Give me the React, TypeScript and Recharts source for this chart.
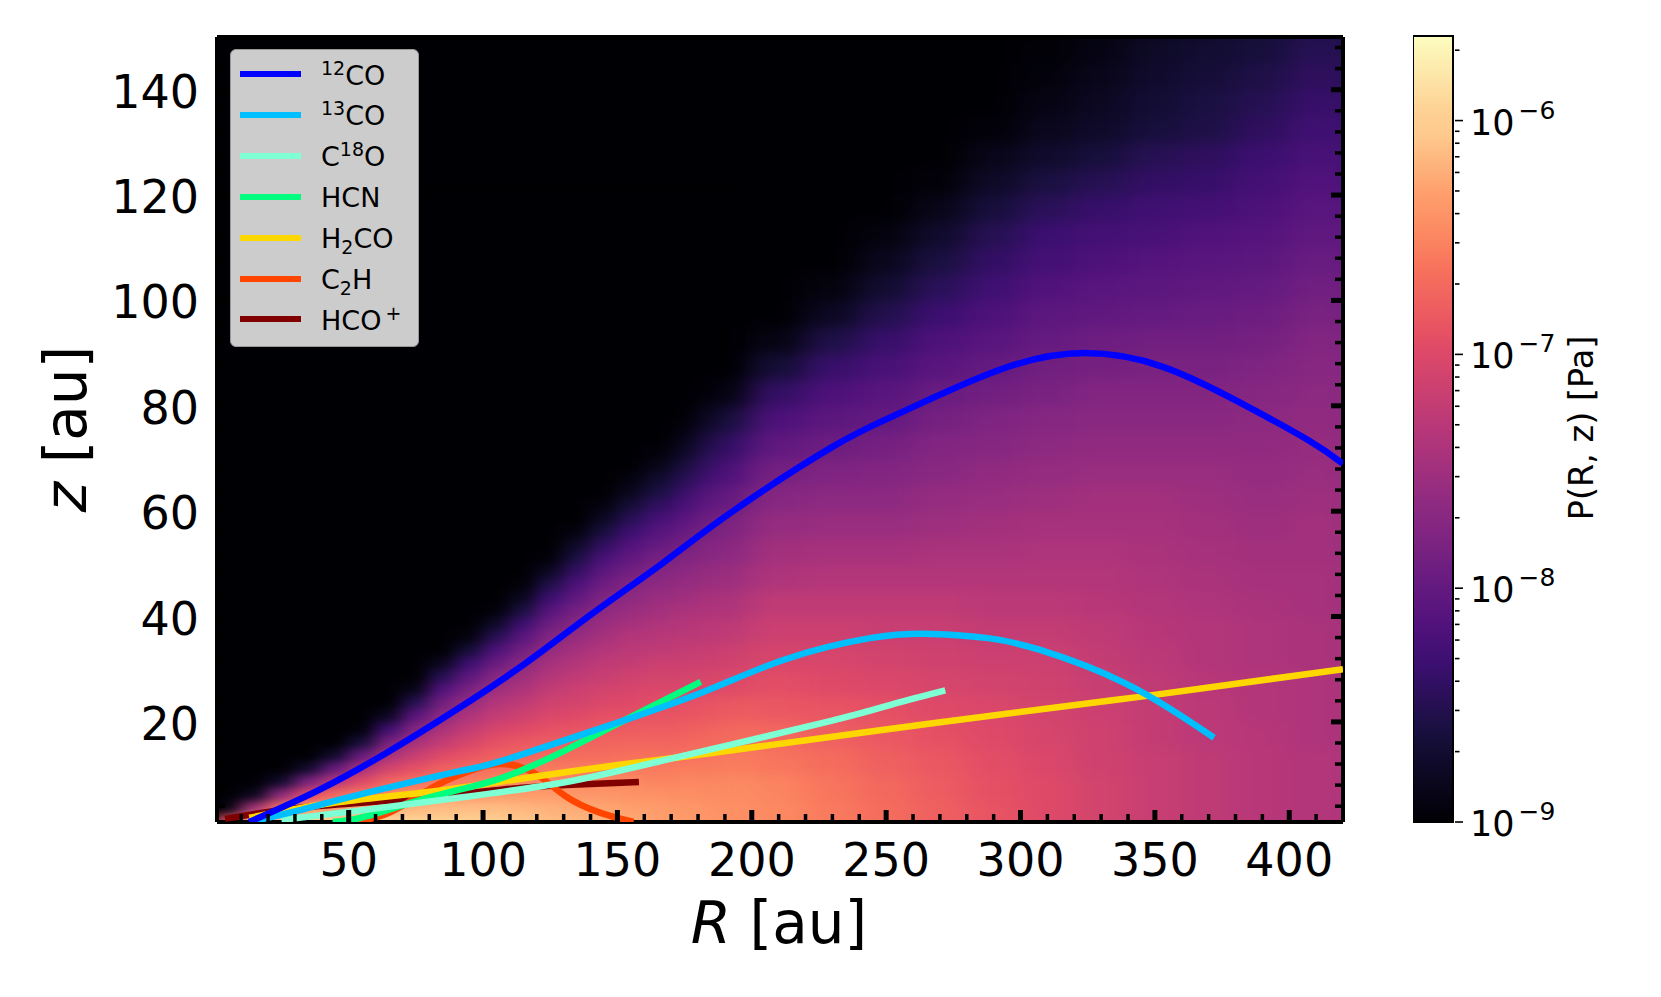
import React from 'react'
import { ComposedChart, Line, Scatter, XAxis, YAxis, ReferenceArea } from 'recharts'

const FONT = '"DejaVu Sans", sans-serif'

// line positions: radius R [au] and height z [au]
const co12R = [13, 39, 64, 90, 116, 141, 167, 193, 230, 255, 292, 324, 353, 381, 407, 420]
const co12Z = [1, 7.1, 14.1, 22.3, 31.2, 40.7, 50.2, 60, 72.2, 78.6, 86.8, 90, 87.4, 80.8, 73.5, 69]
const co13R = [13, 30, 51, 90, 107, 142, 181, 212, 244, 267, 288, 307, 339, 372]
const co13Z = [1, 3, 5.8, 10.5, 12.6, 18.5, 25.5, 31.8, 35.9, 36.7, 35.9, 33.7, 27.3, 17]
const c18oR = [25, 56, 94, 131, 168, 228, 252, 272]
const c18oZ = [1.4, 3.3, 5.8, 8.6, 12.8, 20, 23.3, 26]
const hcnR = [44, 56, 81, 106, 131, 156, 181]
const hcnZ = [1, 2, 5.8, 9.2, 14.7, 21.2, 27.6]
const h2coR = [13, 44, 81, 119, 156, 188, 268, 345, 420]
const h2coZ = [1.8, 4.6, 6.8, 9.6, 12.2, 14.3, 19.8, 24.8, 30]
const c2hR = [53, 66, 81, 94, 106, 119, 131, 144, 156]
const c2hZ = [1, 3, 7.5, 10.5, 12, 10.3, 5.8, 2.7, 1]
const hcoR = [4, 32, 69, 106, 131, 158]
const hcoZ = [1.6, 3.7, 5.2, 7.1, 8, 8.6]

const toPoints = (rs: number[], zs: number[]) => rs.map((R, i) => ({ R, z: zs[i] }))

const xTicks = [10, 20, 30, 40, 50, 60, 70, 80, 90, 100, 110, 120, 130, 140, 150, 160, 170, 180, 190, 200, 210, 220, 230, 240, 250, 260, 270, 280, 290, 300, 310, 320, 330, 340, 350, 360, 370, 380, 390, 400, 410]
const yTicks = [4, 8, 12, 16, 20, 24, 28, 32, 36, 40, 44, 48, 52, 56, 60, 64, 68, 72, 76, 80, 84, 88, 92, 96, 100, 104, 108, 112, 116, 120, 124, 128, 132, 136, 140, 144, 148]
const cbTicks = [1e-9, 2e-9, 3e-9, 4e-9, 5e-9, 6e-9, 7e-9, 8e-9, 9e-9, 1e-8, 2e-8, 3e-8, 4e-8, 5e-8, 6e-8, 7e-8, 8e-8, 9e-8, 1e-7, 2e-7, 3e-7, 4e-7, 5e-7, 6e-7, 7e-7, 8e-7, 9e-7, 1e-6, 2e-6]
const cbLabels: Record<string, string> = { '1e-9': '\u22129', '1e-8': '\u22128', '1e-7': '\u22127', '0.000001': '\u22126' }
const cbEnds = [{ x: 0, p: 1e-9 }, { x: 1, p: 2.3e-6 }]

const magmaAt = [0, .1, .125, .2, .25, .3, .375, .4, .5, .6, .625, .7, .75, .8, .875, .9, 1]
const magma = ['#000004', '#140e36', '#1c1044', '#3b0f70', '#51127c', '#641a80', '#842681', '#8c2981', '#b73779', '#de4968', '#e75263', '#f7705c', '#fc8961', '#fe9f6d', '#feca8d', '#fecf92', '#fcfdbf']

// pressure field, position along the log colour bar (0 to 1) read by eye.
// one list per radius, going up from the midplane; what is left out is black.
// wide grid: steps of 20 au in R, rows from z = 2.5 in steps of 5 au
const coarseR = [-10, 10, 30, 50, 70, 90, 110, 130, 150, 170, 190, 210, 230, 250, 270, 290, 310, 330, 350, 370, 390, 410, 430]
const coarseLevels = [
  [], [], [], [], [], [], [], [],
  [.83, .79, .74, .68, .62, .57, .52, .47, .42, .37, .31, .24, .15, .05],
  [.8, .78, .74, .69, .64, .59, .54, .5, .46, .42, .37, .32, .26, .18, .1, .03],
  [.77, .76, .73, .69, .65, .6, .56, .52, .48, .44, .4, .36, .31, .25, .19, .12, .03],
  [.75, .74, .71, .68, .64, .61, .58, .55, .52, .48, .45, .42, .38, .34, .29, .24, .18, .1, .03],
  [.72, .71, .69, .66, .63, .6, .58, .55, .52, .49, .46, .43, .4, .36, .32, .28, .24, .19, .13, .06, .02],
  [.69, .68, .66, .64, .62, .59, .57, .54, .52, .49, .46, .43, .4, .37, .34, .3, .27, .23, .19, .14, .09, .05, .02],
  [.66, .65, .64, .62, .6, .58, .56, .54, .52, .49, .47, .44, .42, .39, .37, .34, .31, .27, .24, .2, .16, .12, .08, .04, .01],
  [.63, .62, .61, .6, .59, .57, .55, .53, .51, .49, .47, .45, .43, .41, .38, .36, .33, .3, .27, .24, .21, .18, .15, .11, .07, .04, .01],
  [.6, .6, .59, .58, .57, .56, .55, .53, .51, .49, .48, .46, .44, .42, .4, .38, .35, .33, .3, .28, .25, .22, .2, .16, .12, .08, .05, .03, .015, .005],
  [.57, .57, .56, .56, .55, .54, .53, .52, .5, .49, .48, .46, .45, .43, .41, .39, .37, .34, .32, .29, .27, .24, .22, .19, .15, .11, .075, .06, .045, .03, .02],
  [.54, .54, .54, .53, .53, .52, .51, .5, .49, .48, .47, .46, .45, .43, .41, .39, .37, .35, .33, .3, .28, .26, .23, .21, .18, .15, .11, .095, .08, .07, .055],
  [.52, .52, .52, .51, .51, .5, .49, .49, .48, .47, .46, .45, .44, .43, .41, .39, .37, .35, .33, .31, .29, .27, .25, .22, .19, .17, .13, .12, .105, .09, .08],
  [.5, .5, .5, .5, .49, .49, .48, .48, .47, .46, .45, .44, .43, .42, .41, .4, .38, .36, .34, .32, .3, .28, .26, .24, .22, .2, .17, .15, .13, .11, .1],
  [.49, .49, .49, .48, .48, .48, .47, .47, .46, .46, .45, .45, .44, .43, .42, .41, .4, .385, .37, .35, .33, .31, .29, .27, .25, .23, .21, .19, .17, .15, .13],
  [.48, .48, .48, .47, .47, .47, .46, .46, .45, .45, .44, .44, .43, .42, .41, .4, .39, .375, .36, .34, .32, .3, .28, .26, .24, .22, .2, .18, .16, .14, .12],
]
// fine grid near the inner disc: steps of 10 au in R, rows from z = 1.25 in steps of 2.5 au
const fineR = [-15, -5, 5, 15, 25, 35, 45, 55, 65, 75, 85, 95, 105, 115, 125, 135, 145, 155, 165, 175, 185, 195]
const fineLevels = [
  [],
  [],
  [.6, .02],
  [.85, .45, .05],
  [.88, .7, .4, .08],
  [.9, .78, .6, .35, .08],
  [.91, .8, .68, .5, .3, .08],
  [.91, .82, .72, .6, .46, .3, .1, .01],
  [.91, .83, .75, .67, .57, .46, .34, .2, .06],
  [.91, .84, .77, .7, .62, .54, .46, .37, .27, .15, .04],
  [.9, .85, .78, .72, .66, .6, .53, .47, .4, .33, .25, .15, .05],
  [.9, .85, .79, .73, .68, .63, .58, .53, .48, .42, .35, .28, .2, .1, .02],
  [.89, .85, .79, .74, .7, .66, .62, .58, .53, .49, .44, .38, .31, .24, .15, .07, .01],
  [.87, .84, .79, .75, .71, .67, .64, .6, .56, .52, .48, .44, .39, .33, .27, .2, .12, .05, .01],
  [.85, .83, .79, .75, .72, .68, .65, .62, .59, .56, .53, .49, .46, .42, .37, .32, .26, .2, .13, .06, .01],
  [.84, .82, .78, .75, .72, .69, .66, .63, .6, .57, .55, .52, .49, .46, .42, .38, .34, .29, .24, .18, .12, .07, .02],
  [.83, .81, .78, .75, .72, .69, .67, .64, .62, .59, .57, .54, .52, .49, .46, .43, .4, .36, .32, .28, .23, .17, .11, .06, .02],
  [.82, .8, .77, .75, .72, .7, .67, .65, .62, .6, .58, .56, .53, .51, .49, .46, .43, .4, .37, .33, .29, .25, .2, .15, .1, .05, .02],
  [.8, .79, .77, .74, .72, .7, .67, .65, .63, .61, .59, .57, .55, .52, .5, .48, .45, .43, .4, .37, .34, .3, .26, .22, .17, .12, .08, .04, .01],
  [.79, .78, .76, .74, .72, .69, .67, .65, .63, .61, .59, .57, .55, .53, .51, .49, .47, .44, .42, .39, .36, .33, .3, .26, .22, .18, .14, .1, .06, .03, .01],
  [.78, .77, .75, .73, .71, .69, .67, .65, .63, .61, .59, .57, .55, .53, .51, .5, .48, .46, .43, .41, .38, .36, .33, .3, .27, .23, .19, .15, .12, .08, .05, .02, .01],
  [.76, .75, .74, .72, .71, .69, .67, .65, .63, .61, .59, .57, .56, .54, .52, .5, .48, .46, .44, .42, .4, .37, .35, .32, .29, .26, .23, .2, .16, .13, .1, .07, .04, .02, .01],
]

const hex = (s: string, i: number) => parseInt(s.slice(i, i + 2), 16)
function magmaColor(level: number) {
  const t = Math.min(Math.max(level, 0), 1)
  let i = 0
  while (i < magma.length - 2 && magmaAt[i + 1] < t) i++
  const f = (t - magmaAt[i]) / (magmaAt[i + 1] - magmaAt[i])
  const mix = (k: number) => Math.round(hex(magma[i], k) * (1 - f) + hex(magma[i + 1], k) * f)
  return `rgb(${mix(1)},${mix(3)},${mix(5)})`
}

// rows past the plot edge repeat the edge value so the smoothing does not fade out there
function buildCells(rs: number[], levels: number[][], z0: number, dz: number, rows: number) {
  const cells: { R: number; z: number; fill: string }[] = []
  levels.forEach((col, c) => {
    for (let row = -3; row < rows; row++) {
      cells.push({ R: rs[c], z: z0 + row * dz, fill: magmaColor(col[Math.max(row, 0)] ?? 0) })
    }
  })
  return cells
}
const coarseCells = buildCells(coarseR, coarseLevels, 2.5, 5, 34)
const fineCells = buildCells(fineR, fineLevels, 1.25, 2.5, 48)

const sup = { fontSize: 19, lineHeight: 0 }
const legendItems = [
  { color: '#0000ff', label: <><sup style={sup}>12</sup>CO</> },
  { color: '#00bfff', label: <><sup style={sup}>13</sup>CO</> },
  { color: '#7fffd4', label: <>C<sup style={sup}>18</sup>O</> },
  { color: '#00ff7f', label: <>HCN</> },
  { color: '#ffd700', label: <>H<sub style={sup}>2</sub>CO</> },
  { color: '#ff4500', label: <>C<sub style={sup}>2</sub>H</> },
  { color: '#800000', label: <>HCO<sup style={{ ...sup, marginLeft: 4 }}>+</sup></> },
]

const CoarseCell = (props: any) => (
  <rect x={props.cx - 27.5} y={props.cy - 13.7} width={55} height={27.4} fill={props.payload.fill} />
)
const FineCell = (props: any) => (
  <rect x={props.cx - 14} y={props.cy - 7} width={28} height={14} fill={props.payload.fill} />
)

const BottomTick = ({ x, y, payload }: any) => {
  const major = payload.value % 50 === 0
  return (
    <g>
      <line x1={x} x2={x} y1={y} y2={y - (major ? 14 : 10)} stroke="#000" strokeWidth={major ? 5 : 3.5} />
      {major && <text x={x} y={y + 52} textAnchor="middle" fontFamily={FONT} fontSize={46} fill="#000">{payload.value}</text>}
    </g>
  )
}
const TopTick = ({ x, y, payload }: any) => {
  const major = payload.value % 50 === 0
  return <line x1={x} x2={x} y1={y} y2={y + (major ? 14 : 10)} stroke="#000" strokeWidth={major ? 5 : 3.5} />
}
const LeftTick = ({ x, y, payload }: any) => {
  const major = payload.value % 20 === 0
  return (
    <g>
      <line x1={x} x2={x + (major ? 14 : 10)} y1={y} y2={y} stroke="#000" strokeWidth={major ? 5 : 3.5} />
      {major && <text x={x - 16} y={y + 18} textAnchor="end" fontFamily={FONT} fontSize={46} fill="#000">{payload.value}</text>}
    </g>
  )
}
const RightTick = ({ x, y, payload }: any) => {
  const major = payload.value % 20 === 0
  return <line x1={x} x2={x - (major ? 14 : 10)} y1={y} y2={y} stroke="#000" strokeWidth={major ? 5 : 3.5} />
}
const ColorbarTick = ({ x, y, payload }: any) => {
  const exp = cbLabels[String(payload.value)]
  return (
    <g>
      <line x1={x} x2={x + (exp ? 8 : 4.5)} y1={y} y2={y} stroke="#000" strokeWidth={1.6} />
      {exp && (
        <text x={x + 15} y={y + 14} fontFamily={FONT} fontSize={35} fill="#000">
          10<tspan dx={4} dy={-16} fontSize={25}>{exp}</tspan>
        </text>
      )}
    </g>
  )
}

export default function App() {
  const line = (id: string, rs: number[], zs: number[], color: string, zIndex: number) => (
    <Line
      key={id}
      name={id}
      data={toPoints(rs, zs)}
      dataKey="z"
      type="natural"
      stroke={color}
      strokeWidth={6.5}
      dot={false}
      activeDot={false}
      zIndex={zIndex}
      isAnimationActive={false}
    />
  )
  return (
    <div style={{ position: 'absolute', left: 0, top: 0, width: 1661, height: 997, background: '#fff', overflow: 'hidden' }}>
      <style>{`.heat-coarse { filter: url(#blurCoarse); } .heat-fine { filter: url(#blurFine); mask: url(#fineFade); }`}</style>
      <div style={{ position: 'absolute', left: 0, top: 0 }}>
        <ComposedChart width={1661} height={997} margin={{ top: 7, right: 0, bottom: 0, left: 0 }}>
          <defs>
            <filter id="blurCoarse" filterUnits="userSpaceOnUse" x={0} y={0} width={1661} height={997} colorInterpolationFilters="sRGB">
              <feGaussianBlur stdDeviation="15 7" />
            </filter>
            <filter id="blurFine" filterUnits="userSpaceOnUse" x={0} y={0} width={1661} height={997} colorInterpolationFilters="sRGB">
              <feGaussianBlur stdDeviation="9 4" />
            </filter>
            <linearGradient id="fineFadeGrad" gradientUnits="userSpaceOnUse" x1={670} y1={0} x2={745} y2={0}>
              <stop offset={0} stopColor="#fff" />
              <stop offset={1} stopColor="#000" />
            </linearGradient>
            <mask id="fineFade" maskUnits="userSpaceOnUse" x={0} y={0} width={1661} height={997}>
              <rect x={0} y={0} width={1661} height={997} fill="url(#fineFadeGrad)" />
            </mask>
          </defs>
          <XAxis dataKey="R" type="number" domain={[1, 420]} allowDataOverflow ticks={xTicks} interval={0} height={175} tickSize={0} tickLine={false} tick={BottomTick} axisLine={{ stroke: '#000', strokeWidth: 4 }} />
          <XAxis xAxisId="top" orientation="top" type="number" domain={[1, 420]} allowDataOverflow ticks={xTicks} interval={0} height={30} tickSize={0} tickLine={false} tick={TopTick} axisLine={{ stroke: '#000', strokeWidth: 4 }} />
          <YAxis dataKey="z" type="number" domain={[1, 150]} allowDataOverflow ticks={yTicks} interval={0} width={217} tickSize={0} tickLine={false} tick={LeftTick} axisLine={{ stroke: '#000', strokeWidth: 4 }} />
          <YAxis yAxisId="right" orientation="right" type="number" domain={[1, 150]} allowDataOverflow ticks={yTicks} interval={0} width={318} tickSize={0} tickLine={false} tick={RightTick} axisLine={{ stroke: '#000', strokeWidth: 4 }} />
          <Scatter className="heat-coarse" data={coarseCells} shape={CoarseCell} zIndex={100} isAnimationActive={false} />
          <Scatter className="heat-fine" data={fineCells} shape={FineCell} zIndex={110} isAnimationActive={false} />
          {line('HCO+', hcoR, hcoZ, '#800000', 610)}
          {line('C2H', c2hR, c2hZ, '#ff4500', 611)}
          {line('H2CO', h2coR, h2coZ, '#ffd700', 612)}
          {line('HCN', hcnR, hcnZ, '#00ff7f', 613)}
          {line('C18O', c18oR, c18oZ, '#7fffd4', 614)}
          {line('13CO', co13R, co13Z, '#00bfff', 615)}
          {line('12CO', co12R, co12Z, '#0000ff', 616)}
          <text x={779} y={943} textAnchor="middle" fontFamily={FONT} fontSize={58} fill="#000">
            <tspan fontStyle="italic">R</tspan> [au]
          </text>
          <text transform="translate(86,429) rotate(-90)" textAnchor="middle" fontFamily={FONT} fontSize={58} fill="#000">
            <tspan fontStyle="italic">z</tspan> [au]
          </text>
        </ComposedChart>
      </div>
      <div style={{ position: 'absolute', left: 1413, top: 0 }}>
        <ComposedChart width={248} height={997} data={cbEnds} margin={{ top: 36, right: 0, bottom: 0, left: 0 }}>
          <defs>
            <linearGradient id="magmaBar" x1="0" y1="1" x2="0" y2="0">
              {magma.map((c, i) => <stop key={c} offset={magmaAt[i]} stopColor={c} />)}
            </linearGradient>
          </defs>
          <XAxis dataKey="x" type="number" domain={[0, 1]} height={175} tick={false} axisLine={false} tickLine={false} />
          <YAxis dataKey="p" orientation="right" type="number" scale="log" domain={[1e-9, 2.3e-6]} allowDataOverflow ticks={cbTicks} interval={0} width={208} tickSize={0} tickLine={false} axisLine={false} tick={ColorbarTick} />
          <ReferenceArea x1={0} x2={1} y1={1e-9} y2={2.3e-6} fill="url(#magmaBar)" fillOpacity={1} stroke="#000" strokeWidth={2} ifOverflow="visible" />
          <text transform="translate(180,428) rotate(-90)" textAnchor="middle" fontFamily={FONT} fontSize={33.5} fill="#000">P(R, z) [Pa]</text>
        </ComposedChart>
      </div>
      <div style={{ position: 'absolute', left: 230, top: 49, width: 189, height: 298, boxSizing: 'border-box', background: '#cccccc', border: '1px solid #999', borderRadius: 6, fontFamily: FONT, fontSize: 27, color: '#000' }}>
        {legendItems.map((item, i) => (
          <div key={item.color} style={{ position: 'absolute', left: 9, top: 4 + i * 40.9, height: 40, display: 'flex', alignItems: 'center', lineHeight: '27px', whiteSpace: 'nowrap' }}>
            <span style={{ display: 'inline-block', width: 61, height: 6, background: item.color, marginRight: 20 }} />
            <span style={{ position: 'relative', top: 1 }}>{item.label}</span>
          </div>
        ))}
      </div>
    </div>
  )
}
